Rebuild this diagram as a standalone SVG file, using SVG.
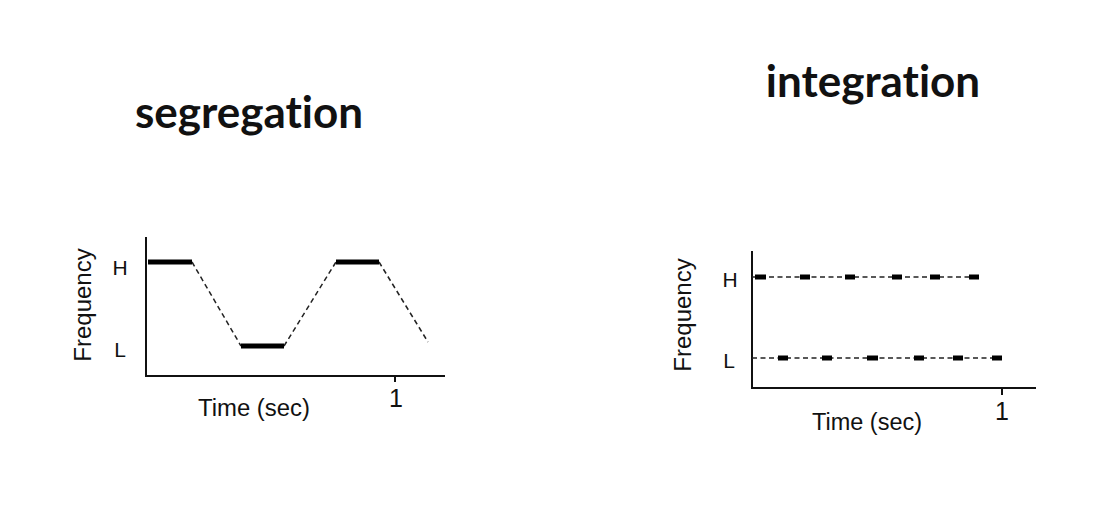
<svg xmlns="http://www.w3.org/2000/svg" width="1114" height="520" viewBox="0 0 1114 520">
<style>
.title{font-family:Lato,"Open Sans",sans-serif;font-weight:bold;font-size:44px;fill:#111;text-anchor:middle;font-variant-ligatures:none}
.lbl{font-family:"Liberation Sans",Arial,sans-serif;fill:#111}
.axis{stroke:#111;stroke-width:2;fill:none}
.dash{stroke:#222;stroke-width:1.5;stroke-dasharray:5 3.5;fill:none}
.seg{stroke:#000;stroke-width:5;fill:none}
.tone{stroke:#000;stroke-width:5;fill:none}
</style>
<rect width="1114" height="520" fill="#fff"/>
<g id="title-segregation"><text class="title" x="249" y="128">segregation</text></g>
<g id="title-integration"><text class="title" x="873" y="97">integration</text></g>

<g id="chart-segregation">
  <g id="seg-axes">
    <path class="axis" d="M146 237 V376 H445"/>
    <path class="axis" d="M395 376 V382"/>
    <text class="lbl" x="396" y="407" font-size="25" text-anchor="middle">1</text>
    <text class="lbl" x="254" y="416" font-size="23" text-anchor="middle" textLength="112" lengthAdjust="spacingAndGlyphs">Time (sec)</text>
    <text class="lbl" x="120" y="275" font-size="21" text-anchor="middle">H</text>
    <text class="lbl" x="120" y="357" font-size="21" text-anchor="middle">L</text>
    <text class="lbl" font-size="24" text-anchor="middle" transform="translate(91,305) rotate(-90)">Frequency</text>
  </g>
  <g id="seg-connectors">
    <path class="dash" d="M192 262 L241 346"/>
    <path class="dash" d="M284 346 L336 262"/>
    <path class="dash" d="M379 262 L428 342"/>
  </g>
  <g id="seg-tones">
    <path class="seg" d="M148 262 H192"/>
    <path class="seg" d="M241 346 H284"/>
    <path class="seg" d="M336 262 H379"/>
  </g>
</g>

<g id="chart-integration">
  <g id="int-axes">
    <path class="axis" d="M752 251 V388 H1036"/>
    <path class="axis" d="M1002 388 V395"/>
    <text class="lbl" x="1002" y="420" font-size="25" text-anchor="middle">1</text>
    <text class="lbl" x="867" y="430" font-size="23" text-anchor="middle" textLength="110" lengthAdjust="spacingAndGlyphs">Time (sec)</text>
    <text class="lbl" x="730" y="287" font-size="21" text-anchor="middle">H</text>
    <text class="lbl" x="729" y="368" font-size="21" text-anchor="middle">L</text>
    <text class="lbl" font-size="24" text-anchor="middle" transform="translate(691,315) rotate(-90)">Frequency</text>
  </g>
  <g id="int-connectors">
    <path class="dash" d="M752 277 H980"/>
    <path class="dash" d="M752 358 H1002"/>
  </g>
  <g id="int-tones">
    <path class="tone" d="M755 277 H766 M800 277 H810 M845 277 H855 M892 277 H902 M930 277 H940 M969 277 H979"/>
    <path class="tone" d="M778 358 H788 M822 358 H832 M867 358 H878 M914 358 H924 M953 358 H963 M992 358 H1002"/>
  </g>
</g>
</svg>
